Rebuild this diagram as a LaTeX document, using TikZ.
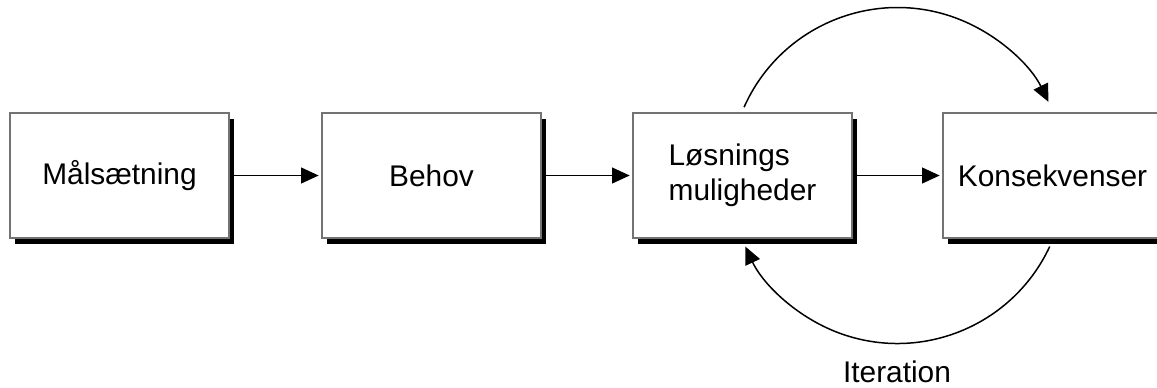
\documentclass[tikz,border=0pt]{standalone}
\usepackage{fontspec}
\setmainfont{Liberation Sans}
\usetikzlibrary{arrows.meta,shadows,calc}

\begin{document}
\begin{tikzpicture}[
  x=0.02cm, y=-0.02cm,
  stagebox/.style={draw=black!55, line width=0.8pt, fill=white,
    minimum width=4.38cm, minimum height=2.5cm, inner sep=0pt,
    general shadow={fill=black, shadow xshift=0.1cm, shadow yshift=-0.12cm},
    font=\fontsize{17}{20}\selectfont},
  flow/.style={line width=0.9pt, shorten >=1.5pt, -{Triangle[length=10pt, width=9pt]}},
  cycle/.style={line width=0.85pt, -{Triangle[length=10pt, width=9pt]}},
  caption/.style={font=\fontsize{17}{20}\selectfont, inner sep=0pt}
]
\useasboundingbox (0,0) rectangle (1157,387);
\clip (0,0) rectangle (1157,387);

% process stages
\node[stagebox] (b1) at (119.5,175.5) {Målsætning};
\node[stagebox] (b2) at (431.5,175.5) {Behov};
\node[stagebox, align=left] (b3) at (742.5,175.5) {Løsnings\\muligheder};
\node[stagebox] (b4) at (1052.5,175.5) {Konsekvenser};

% forward flow
\draw[flow] (b1.east) -- (b2.west);
\draw[flow] (b2.east) -- (b3.west);
\draw[flow] (b3.east) -- (b4.west);

% iteration loop between the last two stages
\coordinate (loop) at ($(b3.center)!0.5!(b4.center)$);
\draw[cycle] ($(loop)+(156:3.36cm)$) arc[start angle=156, end angle=26, radius=3.36cm];
\draw[cycle] ($(loop)+(-25:3.36cm)$) arc[start angle=-25, end angle=-155, radius=3.36cm];

\node[caption, anchor=base] (iter) at (897,382.5) {Iteration};
\end{tikzpicture}
\end{document}
